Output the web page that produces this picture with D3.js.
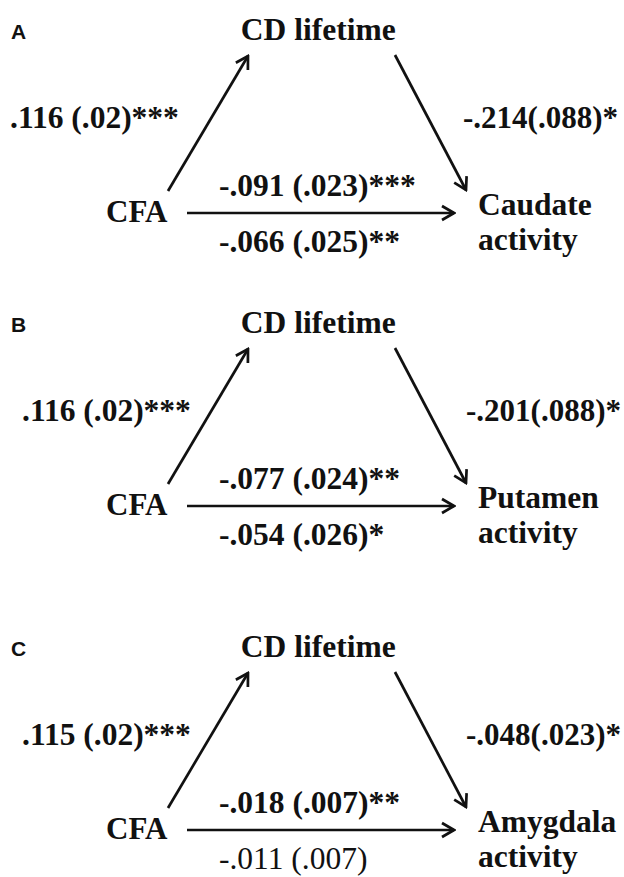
<!DOCTYPE html>
<html>
<head>
<meta charset="utf-8">
<script src="https://cdn.jsdelivr.net/npm/d3@7"></script>
<style>
  body { margin: 0; background: #fff; }
  svg text { font-family: "Liberation Serif", "Times New Roman", Tinos, "DejaVu Serif", serif; font-weight: bold; fill: #111; }
  svg text.panel-letter { font-family: "Liberation Sans", Arial, sans-serif; font-size: 21px; }
  .arrow { fill: none; stroke: #111; stroke-width: 2.7; }
</style>
</head>
<body>
<div id="chart"></div>
<script>
// panel data
const panels = ["A", "B", "C"];
const predictor = "CFA";
const mediator = "CD lifetime";
const outcomes = [["Caudate", "activity"], ["Putamen", "activity"], ["Amygdala", "activity"]];
const aPath = [".116 (.02)***", ".116 (.02)***", ".115 (.02)***"];
const bPath = ["-.214(.088)*", "-.201(.088)*", "-.048(.023)*"];
const totalEffect = ["-.091 (.023)***", "-.077 (.024)**", "-.018 (.007)**"];
const directEffect = ["-.066 (.025)**", "-.054 (.026)*", "-.011 (.007)"];
const directSig = [true, true, false];

const width = 624, height = 877;

const svg = d3.select("#chart").append("svg")
    .attr("width", width)
    .attr("height", height);

svg.append("defs").append("marker")
    .attr("id", "head")
    .attr("viewBox", "-14 -9 16 18")
    .attr("refX", 0).attr("refY", 0)
    .attr("markerWidth", 16).attr("markerHeight", 18)
    .attr("markerUnits", "userSpaceOnUse")
    .attr("orient", "auto")
    .append("path")
    .attr("d", "M-12,-7L0,0L-12,7")
    .attr("fill", "none")
    .attr("stroke", "#111")
    .attr("stroke-width", 2.7);

// vertical offset of each panel
const panelY = d3.scaleOrdinal().domain(panels).range([0, 293, 617]);
// small horizontal nudge of the side labels in B and C
const sideShift = d3.scaleOrdinal().domain(panels).range([0, 12, 12]);

// node layout inside one panel (local coords)
const x = d3.scaleLinear().domain([0, 1]).range([0, width]);
const node = {
  pred: [168, 191],
  predEnd: [187, 213],
  medL: [248, 56],
  medR: [395, 55],
  out: [466, 190],
  outEnd: [454, 213]
};
const line = d3.line();

panels.forEach((p, i) => {
  const g = svg.append("g").attr("transform", `translate(0,${panelY(p)})`);
  const s = sideShift(p);

  g.append("text").attr("class", "panel-letter")
      .attr("x", 11).attr("y", 39).text(p);

  g.append("text").attr("x", x(0.51)).attr("y", 40)
      .attr("text-anchor", "middle")
      .style("font-size", "31.5px").text(mediator);

  g.append("text").attr("x", 106).attr("y", 222)
      .style("font-size", "31px").text(predictor);

  const out = g.append("text").style("font-size", "31.5px");
  outcomes[i].forEach((w, k) => {
    out.append("tspan").attr("x", 478).attr("y", 215 + k * 35).text(w);
  });

  // arrows
  [[node.pred, node.medL], [node.medR, node.out], [node.predEnd, node.outEnd]].forEach(seg => {
    g.append("path").attr("class", "arrow")
        .attr("d", line(seg))
        .attr("marker-end", "url(#head)");
  });

  // a path
  g.append("text").attr("x", 10 + s).attr("y", 128)
      .style("font-size", "31.5px").text(aPath[i]);

  // b path, right aligned so it stays inside the frame
  g.append("text").attr("x", x(1) - 6 + s / 4).attr("y", 128)
      .attr("text-anchor", "end")
      .style("font-size", "31px").text(bPath[i]);

  // total and direct effect
  g.append("text").attr("x", 219).attr("y", 196)
      .style("font-size", "31.5px").text(totalEffect[i]);
  g.append("text").attr("x", 219).attr("y", 252)
      .style("font-size", "31.5px")
      .style("font-weight", directSig[i] ? "bold" : "normal")
      .text(directEffect[i]);
});
</script>
</body>
</html>
